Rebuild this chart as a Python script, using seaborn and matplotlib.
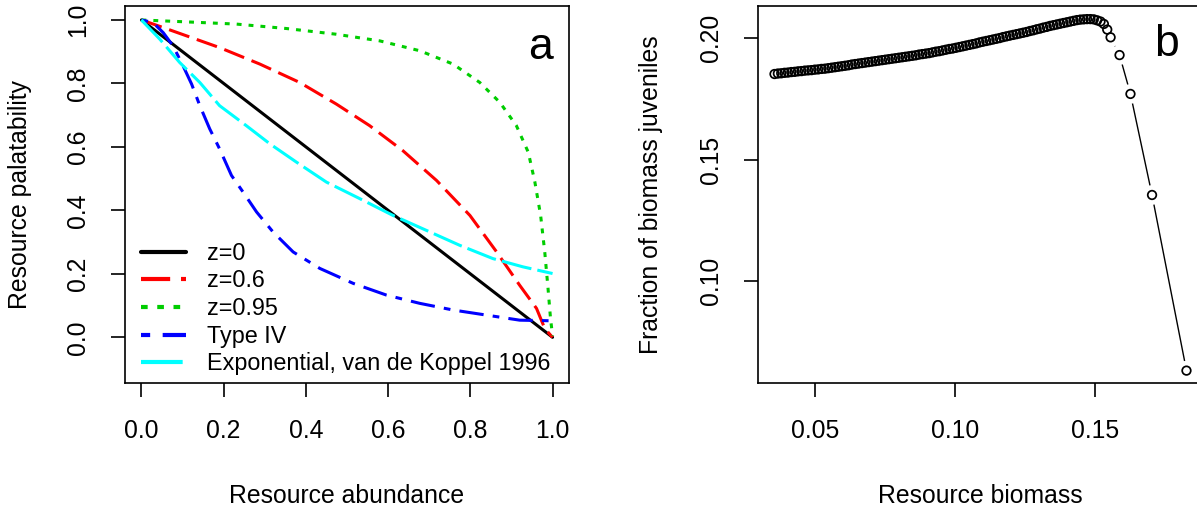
import numpy as np
import pandas as pd
import matplotlib
matplotlib.use("Agg")
import matplotlib.pyplot as plt
import seaborn as sns

# ---------------- Panel a data ----------------
z0_x = [0.0, 1.0]
z0_y = [1.0, 0.0]

z06_x = [0.0, 0.053, 0.19, 0.288, 0.385, 0.474, 0.555, 0.636, 0.718, 0.799, 0.864, 0.92, 0.961, 0.981, 0.997, 1.0]
z06_y = [1.0, 0.976, 0.913, 0.861, 0.803, 0.735, 0.667, 0.588, 0.494, 0.384, 0.269, 0.164, 0.091, 0.028, 0.004, 0.0]

z095_x = [0.0, 0.109, 0.231, 0.353, 0.474, 0.58, 0.677, 0.758, 0.823, 0.872, 0.912, 0.941, 0.957, 0.971, 0.981, 0.989, 0.995, 1.0]
z095_y = [1.0, 0.994, 0.987, 0.973, 0.955, 0.934, 0.903, 0.861, 0.803, 0.74, 0.667, 0.583, 0.489, 0.384, 0.269, 0.154, 0.06, 0.005]

t4_x = [0.0, 0.028, 0.053, 0.077, 0.101, 0.122, 0.142, 0.166, 0.19, 0.219, 0.247, 0.28, 0.32, 0.369, 0.434,
        0.515, 0.596, 0.677, 0.758, 0.839, 0.92, 1.0]
t4_y = [1.0, 0.992, 0.96, 0.918, 0.856, 0.798, 0.73, 0.657, 0.594, 0.51, 0.458, 0.395, 0.332, 0.269, 0.217,
        0.17, 0.133, 0.107, 0.086, 0.07, 0.054, 0.052]

exp_x = [0.0, 0.045, 0.093, 0.142, 0.19, 0.255, 0.312, 0.377, 0.45, 0.531, 0.612, 0.693, 0.774, 0.855, 0.928, 1.0]
exp_y = [1.0, 0.939, 0.866, 0.803, 0.73, 0.667, 0.61, 0.552, 0.489, 0.437, 0.384, 0.337, 0.29, 0.248, 0.222, 0.201]

series_names = ["z=0", "z=0.6", "z=0.95", "Type IV", "Exponential, van de Koppel 1996"]
series_colors = ["#000000", "#FF0000", "#00CD00", "#0000FF", "#00FFFF"]

a_xticks = [0.0, 0.2, 0.4, 0.6, 0.8, 1.0]
a_yticks = [0.0, 0.2, 0.4, 0.6, 0.8, 1.0]

# ---------------- Panel b data ----------------
b_x = [0.0354, 0.0366, 0.0378, 0.0390, 0.0402, 0.0414, 0.0426, 0.0438, 0.0450, 0.0462,
       0.0474, 0.0486, 0.0498, 0.0510, 0.0522, 0.0534, 0.0546, 0.0558, 0.0570, 0.0582,
       0.0594, 0.0606, 0.0618, 0.0630, 0.0642, 0.0654, 0.0666, 0.0678, 0.0690, 0.0702,
       0.0714, 0.0726, 0.0738, 0.0750, 0.0762, 0.0774, 0.0786, 0.0798, 0.0810, 0.0822,
       0.0834, 0.0846, 0.0858, 0.0870, 0.0882, 0.0894, 0.0906, 0.0918, 0.0930, 0.0942,
       0.0954, 0.0966, 0.0978, 0.0990, 0.1002, 0.1014, 0.1026, 0.1038, 0.1050, 0.1062,
       0.1074, 0.1086, 0.1098, 0.1110, 0.1122, 0.1134, 0.1146, 0.1158, 0.1170, 0.1182,
       0.1194, 0.1206, 0.1218, 0.1230, 0.1242, 0.1254, 0.1266, 0.1278, 0.1290, 0.1302,
       0.1314, 0.1326, 0.1338, 0.1350, 0.1362, 0.1374, 0.1386, 0.1398, 0.1410, 0.1422,
       0.1434, 0.1446, 0.1458, 0.1470, 0.1482, 0.1494, 0.1506, 0.1518, 0.1530, 0.1542,
       0.1554, 0.1586, 0.1625, 0.1702, 0.1825]
b_y = [0.1852, 0.1854, 0.1855, 0.1857, 0.1858, 0.1860, 0.1861, 0.1863, 0.1864, 0.1866,
       0.1867, 0.1868, 0.1870, 0.1871, 0.1873, 0.1874, 0.1876, 0.1878, 0.1880, 0.1882,
       0.1884, 0.1886, 0.1888, 0.1891, 0.1893, 0.1895, 0.1897, 0.1899, 0.1901, 0.1903,
       0.1905, 0.1907, 0.1909, 0.1911, 0.1913, 0.1915, 0.1917, 0.1919, 0.1921, 0.1923,
       0.1925, 0.1927, 0.1929, 0.1932, 0.1934, 0.1936, 0.1938, 0.1941, 0.1944, 0.1946,
       0.1949, 0.1952, 0.1955, 0.1957, 0.1960, 0.1963, 0.1966, 0.1969, 0.1972, 0.1975,
       0.1978, 0.1982, 0.1985, 0.1988, 0.1991, 0.1994, 0.1997, 0.2000, 0.2004, 0.2007,
       0.2010, 0.2013, 0.2016, 0.2019, 0.2022, 0.2025, 0.2029, 0.2032, 0.2036, 0.2039,
       0.2043, 0.2046, 0.2050, 0.2053, 0.2056, 0.2059, 0.2062, 0.2065, 0.2068, 0.2071,
       0.2074, 0.2076, 0.2077, 0.2078, 0.2078, 0.2077, 0.2073, 0.2068, 0.2058, 0.2035,
       0.2003, 0.1930, 0.1770, 0.1354, 0.0631]

b_xticks = [0.05, 0.10, 0.15]
b_yticks = [0.10, 0.15, 0.20]

# ---------------- Style ----------------
sns.set_style("ticks")
plt.rcParams["font.family"] = ["Liberation Sans", "DejaVu Sans"]
plt.rcParams["text.color"] = "black"
plt.rcParams["axes.labelcolor"] = "black"
plt.rcParams["xtick.color"] = "black"
plt.rcParams["ytick.color"] = "black"
FS = 17.8

fig = plt.figure(figsize=(11.97, 5.11), dpi=100)
W, H = 1197.0, 511.0
ax1 = fig.add_axes([125 / W, (H - 383) / H, 444 / W, 377 / H])
ax2 = fig.add_axes([758 / W, (H - 383) / H, 445 / W, 377 / H])

# ---------------- Panel a ----------------
frames = []
for name, xs, ys in zip(series_names,
                        [z0_x, z06_x, z095_x, t4_x, exp_x],
                        [z0_y, z06_y, z095_y, t4_y, exp_y]):
    frames.append(pd.DataFrame({"x": xs, "y": ys, "series": name}))
df = pd.concat(frames, ignore_index=True)

dash_map = {
    "z=0": "",
    "z=0.6": (7.0, 2.6),
    "z=0.95": (1.6, 2.3),
    "Type IV": (2.2, 3.0, 8.0, 3.0),
    "Exponential, van de Koppel 1996": (10.0, 2.0),
}
sns.lineplot(data=df, x="x", y="y", hue="series", style="series",
             hue_order=series_names, style_order=series_names,
             palette=dict(zip(series_names, series_colors)), dashes=dash_map,
             sort=False, estimator=None, lw=2.2, legend=False, ax=ax1)

ax1.set_xlim(-0.04, 1.04)
ax1.set_ylim(-0.144, 1.044)
ax1.set_xticks(a_xticks)
ax1.set_xticklabels([f"{v:.1f}" for v in a_xticks])
ax1.set_yticks(a_yticks)
ax1.set_yticklabels([f"{v:.1f}" for v in a_yticks])
ax1.set_xlabel("Resource abundance", fontsize=FS)
ax1.set_ylabel("Resource palatability", fontsize=FS)

handles = ax1.get_lines()[:5]
leg = ax1.legend(handles, series_names, loc="lower left", bbox_to_anchor=(0.035, 0.02),
                 frameon=False, fontsize=16.8, handlelength=1.95, handletextpad=0.9,
                 labelspacing=0.2, borderpad=0.0, borderaxespad=0.0)
for lh in leg.get_lines():
    lh.set_linewidth(3.0)

ax1.text(0.935, 0.89, "a", transform=ax1.transAxes, fontsize=32, ha="center", va="center")

# ---------------- Panel b ----------------
sns.lineplot(x=b_x, y=b_y, sort=False, estimator=None, color="black", lw=1.0, ax=ax2)
sns.scatterplot(x=b_x, y=b_y, s=200, color="white", edgecolor="none", linewidth=0, ax=ax2, zorder=3)
sns.scatterplot(x=b_x, y=b_y, s=38, marker="o", facecolor="none", edgecolor="black",
                linewidth=1.25, ax=ax2, zorder=4)

ax2.set_xlim(0.0295, 0.1884)
ax2.set_ylim(0.058, 0.2132)
ax2.set_xticks(b_xticks)
ax2.set_xticklabels([f"{v:.2f}" for v in b_xticks])
ax2.set_yticks(b_yticks)
ax2.set_yticklabels([f"{v:.2f}" for v in b_yticks])
ax2.set_xlabel("Resource biomass", fontsize=FS)
ax2.set_ylabel("Fraction of biomass juveniles", fontsize=FS)
ax2.text(0.919, 0.897, "b", transform=ax2.transAxes, fontsize=32, ha="center", va="center")

for ax in (ax1, ax2):
    for sp in ax.spines.values():
        sp.set_visible(True)
        sp.set_color("black")
        sp.set_linewidth(1.2)
        sp.set_zorder(10)
    ax.tick_params(axis="both", direction="out", length=10, width=1.2, labelsize=FS,
                   color="black", labelcolor="black", pad=16)
    ax.tick_params(axis="y", labelrotation=90, pad=15)
    for lab in ax.get_yticklabels():
        lab.set_va("center")
    ax.grid(False)
    ax.set_facecolor("white")

ax1.yaxis.set_label_coords(-0.21, 0.5)
ax2.yaxis.set_label_coords(-0.214, 0.5)
ax1.xaxis.set_label_coords(0.5, -0.268)
ax2.xaxis.set_label_coords(0.5, -0.268)

fig.savefig("out.png", dpi=100, facecolor="white")
